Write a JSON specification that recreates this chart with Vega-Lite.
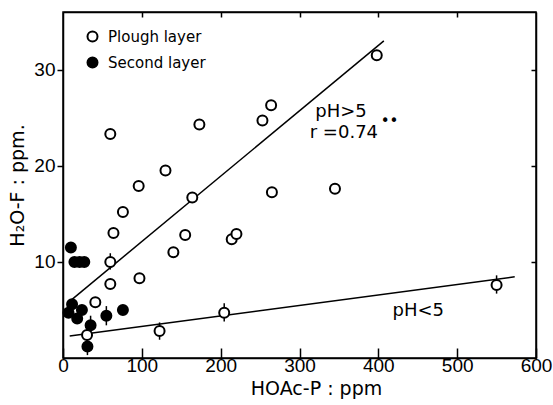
{
  "$schema": "https://vega.github.io/schema/vega-lite/v6.json",
  "autosize": "none",
  "width": 473,
  "height": 346,
  "padding": {"left": 63, "top": 12, "right": 17, "bottom": 47},
  "background": "white",
  "config": {
    "view": {"stroke": "black", "strokeWidth": 1.5},
    "axis": {
      "grid": false,
      "labelFlush": false,
      "domainColor": "black",
      "domainWidth": 1.5,
      "tickColor": "black",
      "tickWidth": 1.5,
      "labelColor": "black",
      "titleColor": "black",
      "labelFont": "Liberation Sans",
      "labelFontSize": 19,
      "titleFont": "DejaVu Sans",
      "titleFontSize": 19,
      "titleFontWeight": "normal"
    }
  },
  "datasets": {
    "points": [
      {"P": 60, "F": 23.3, "layer": "Plough layer", "lo": null, "hi": null},
      {"P": 173, "F": 24.3, "layer": "Plough layer", "lo": null, "hi": null},
      {"P": 130, "F": 19.5, "layer": "Plough layer", "lo": null, "hi": null},
      {"P": 96, "F": 17.9, "layer": "Plough layer", "lo": null, "hi": null},
      {"P": 164, "F": 16.7, "layer": "Plough layer", "lo": null, "hi": null},
      {"P": 76, "F": 15.2, "layer": "Plough layer", "lo": null, "hi": null},
      {"P": 64, "F": 13.0, "layer": "Plough layer", "lo": null, "hi": null},
      {"P": 155, "F": 12.8, "layer": "Plough layer", "lo": null, "hi": null},
      {"P": 140, "F": 11.0, "layer": "Plough layer", "lo": null, "hi": null},
      {"P": 60, "F": 10.0, "layer": "Plough layer", "lo": 9.2, "hi": 10.9},
      {"P": 60, "F": 7.7, "layer": "Plough layer", "lo": null, "hi": null},
      {"P": 97, "F": 8.3, "layer": "Plough layer", "lo": null, "hi": null},
      {"P": 41, "F": 5.8, "layer": "Plough layer", "lo": null, "hi": null},
      {"P": 30.5, "F": 2.4, "layer": "Plough layer", "lo": 1.5, "hi": 3.4},
      {"P": 122.5, "F": 2.8, "layer": "Plough layer", "lo": 1.9, "hi": 3.7},
      {"P": 204.5, "F": 4.7, "layer": "Plough layer", "lo": 3.8, "hi": 5.7},
      {"P": 214, "F": 12.35, "layer": "Plough layer", "lo": null, "hi": null},
      {"P": 220, "F": 12.9, "layer": "Plough layer", "lo": null, "hi": null},
      {"P": 264, "F": 26.3, "layer": "Plough layer", "lo": null, "hi": null},
      {"P": 253, "F": 24.7, "layer": "Plough layer", "lo": null, "hi": null},
      {"P": 265, "F": 17.25, "layer": "Plough layer", "lo": null, "hi": null},
      {"P": 345, "F": 17.6, "layer": "Plough layer", "lo": null, "hi": null},
      {"P": 398, "F": 31.5, "layer": "Plough layer", "lo": null, "hi": null},
      {"P": 550, "F": 7.6, "layer": "Plough layer", "lo": 6.7, "hi": 8.6},
      {"P": 10, "F": 11.5, "layer": "Second layer", "lo": null, "hi": null},
      {"P": 14.5, "F": 10.0, "layer": "Second layer", "lo": null, "hi": null},
      {"P": 21, "F": 10.0, "layer": "Second layer", "lo": null, "hi": null},
      {"P": 27, "F": 10.0, "layer": "Second layer", "lo": null, "hi": null},
      {"P": 11.5, "F": 5.6, "layer": "Second layer", "lo": null, "hi": null},
      {"P": 7, "F": 4.7, "layer": "Second layer", "lo": null, "hi": null},
      {"P": 18, "F": 4.1, "layer": "Second layer", "lo": null, "hi": null},
      {"P": 24, "F": 5.0, "layer": "Second layer", "lo": null, "hi": null},
      {"P": 35, "F": 3.4, "layer": "Second layer", "lo": 2.5, "hi": 4.4},
      {"P": 55, "F": 4.4, "layer": "Second layer", "lo": 3.4, "hi": 5.4},
      {"P": 76, "F": 5.0, "layer": "Second layer", "lo": null, "hi": null},
      {"P": 31, "F": 1.2, "layer": "Second layer", "lo": 0.3, "hi": 2.1}
    ],
    "lines": [
      {"group": "pH>5", "P": 11.5, "F": 6.1},
      {"group": "pH>5", "P": 407, "F": 33.0},
      {"group": "pH<5", "P": 8.5, "F": 2.3},
      {"group": "pH<5", "P": 573, "F": 8.45}
    ],
    "labels": [
      {"P": 320, "F": 25.1, "text": "pH>5", "size": 18},
      {"P": 313, "F": 22.9, "text": "r =0.74", "size": 18},
      {"P": 403, "F": 24.1, "text": "••", "size": 15},
      {"P": 418, "F": 4.4, "text": "pH<5", "size": 18}
    ]
  },
  "layer": [
    {
      "data": {"name": "lines"},
      "mark": {"type": "line", "color": "black", "strokeWidth": 1.5},
      "encoding": {
        "x": {"field": "P", "type": "quantitative", "scale": {"domain": [0, 600], "nice": false, "zero": false},
          "axis": {"orient": "bottom", "values": [0, 100, 200, 300, 400, 500, 600], "tickSize": -10, "labelPadding": 8, "title": "HOAc-P  :  ppm", "titlePadding": 4, "titleX": 253}},
        "y": {"field": "F", "type": "quantitative", "scale": {"domain": [0, 36], "nice": false, "zero": false},
          "axis": {"orient": "left", "values": [10, 20, 30], "tickSize": 6, "labelPadding": 2, "title": "H₂O-F : ppm.", "titlePadding": 6}},
        "detail": {"field": "group"}
      }
    },
    {
      "data": {"name": "points"},
      "transform": [{"filter": "datum.lo != null"}],
      "mark": {"type": "rule", "color": "black", "strokeWidth": 1.5},
      "encoding": {
        "x": {"field": "P", "type": "quantitative", "scale": {"domain": [0, 600], "nice": false, "zero": false},
          "axis": {"orient": "top", "values": [100, 200, 300, 400, 500], "tickSize": -5, "labels": false, "title": null}},
        "y": {"field": "lo", "type": "quantitative", "scale": {"domain": [0, 36], "nice": false, "zero": false},
          "axis": {"orient": "right", "values": [10, 20, 30], "tickSize": -5, "labels": false, "title": null}},
        "y2": {"field": "hi"}
      }
    },
    {
      "data": {"name": "points"},
      "mark": {"type": "point", "shape": "circle", "filled": false, "stroke": "black", "strokeWidth": 2, "opacity": 1},
      "encoding": {
        "x": {"field": "P", "type": "quantitative", "axis": null},
        "y": {"field": "F", "type": "quantitative", "axis": null},
        "fill": {"field": "layer", "type": "nominal",
          "scale": {"domain": ["Plough layer", "Second layer"], "range": ["white", "black"]},
          "legend": {"orient": "none", "legendX": 22, "legendY": 17, "title": null, "labelFont": "DejaVu Sans", "labelFontSize": 15, "labelColor": "black", "symbolStrokeColor": "black", "symbolStrokeWidth": 2, "symbolSize": 100, "symbolType": "circle", "rowPadding": 7, "labelOffset": 8}},
        "size": {"value": 100}
      }
    },
    {
      "data": {"name": "labels"},
      "mark": {"type": "text", "font": "DejaVu Sans", "align": "left", "baseline": "alphabetic", "color": "black"},
      "encoding": {
        "x": {"field": "P", "type": "quantitative", "axis": null},
        "y": {"field": "F", "type": "quantitative", "axis": null},
        "text": {"field": "text"},
        "size": {"field": "size", "type": "quantitative", "scale": null}
      }
    }
  ]
}
